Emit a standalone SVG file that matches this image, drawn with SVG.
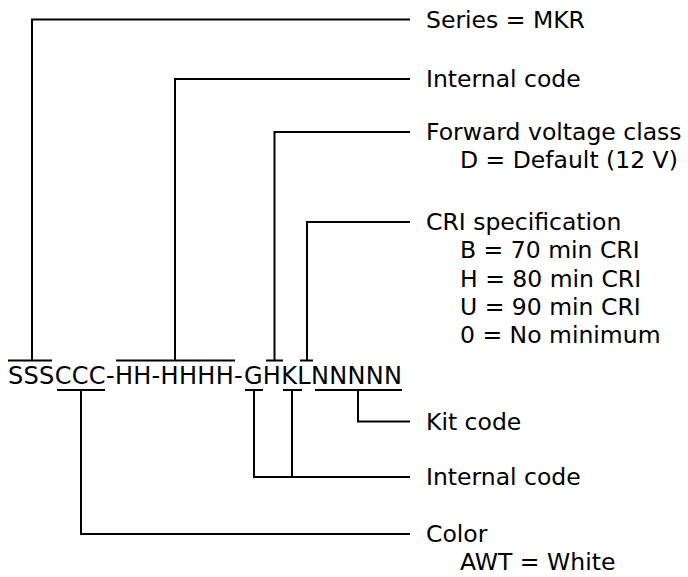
<svg xmlns="http://www.w3.org/2000/svg" width="688" height="577" viewBox="0 0 688 577">
<style>
  text { font-family: "DejaVu Sans", Verdana, sans-serif; fill: #000; }
  .lbl { font-size: 23.5px; }
  .code { font-size: 24px; }
  .ln { fill: none; stroke: #000; stroke-width: 2; }
</style>
<rect width="688" height="577" fill="#fff"/>
<g id="code"><text class="code" x="8" y="384" textLength="394" lengthAdjust="spacing">SSSCCC-HH-HHHH-GHKLNNNNN</text></g>
<g id="connectors">
  <path class="ln" d="M8,360.5 H52 M32,360.5 V19.5 H410"/>
  <path class="ln" d="M116,360.5 H235 M175,360.5 V79 H410"/>
  <path class="ln" d="M266,360.5 H283 M274.5,360.5 V132 H410"/>
  <path class="ln" d="M300,360.5 H313 M307,360.5 V222 H410"/>
  <path class="ln" d="M315,390 H402 M358,390 V421.5 H410"/>
  <path class="ln" d="M245,390 H263 M283,390 H302 M254,390 V477 H410 M292,390 V477"/>
  <path class="ln" d="M57,390 H105 M81,390 V534 H410"/>
</g>
<g id="series"><text class="lbl" x="426" y="27.5">Series = MKR</text></g>
<g id="internal1"><text class="lbl" x="426" y="87">Internal code</text></g>
<g id="forward"><text class="lbl" x="426" y="140">Forward voltage class</text><text class="lbl" x="460" y="168.3">D = Default (12 V)</text></g>
<g id="cri"><text class="lbl" x="426" y="230">CRI specification</text><text class="lbl" x="460" y="258.3">B = 70 min CRI</text><text class="lbl" x="460" y="286.6">H = 80 min CRI</text><text class="lbl" x="460" y="315">U = 90 min CRI</text><text class="lbl" x="460" y="343.3">0 = No minimum</text></g>
<g id="kit"><text class="lbl" x="426" y="430">Kit code</text></g>
<g id="internal2"><text class="lbl" x="426" y="485">Internal code</text></g>
<g id="color"><text class="lbl" x="426" y="542">Color</text><text class="lbl" x="460" y="570.3">AWT = White</text></g>
</svg>
